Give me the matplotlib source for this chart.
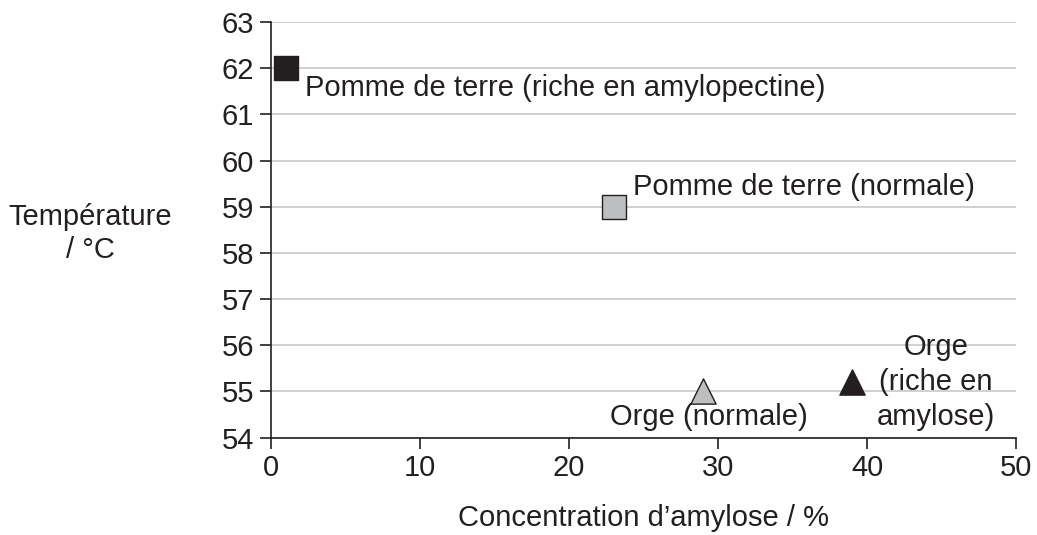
import matplotlib.pyplot as plt

plt.rcParams['font.family'] = ['Liberation Sans', 'DejaVu Sans']

# Données
amylose = [1, 23, 29, 39]  # concentration d'amylose / %
temperature = [62, 59, 55, 55.2]  # température / °C
marqueurs = ['s', 's', '^', '^']
couleurs = ['#231f20', '#bcbec0', '#bcbec0', '#231f20']
etiquettes = ['Pomme de terre (riche en amylopectine)', 'Pomme de terre (normale)',
              'Orge (normale)', 'Orge\n(riche en\namylose)']
x_ticks = [0, 10, 20, 30, 40, 50]
y_ticks = [54, 55, 56, 57, 58, 59, 60, 61, 62, 63]

txt = '#231f20'
fs = 21
fig = plt.figure(figsize=(10.37, 5.35), dpi=100)
ax = fig.add_axes([0.261, 0.182, 0.719, 0.777])

for yv in y_ticks:
    ax.axhline(yv, color='#c8c8c8', lw=1.2, zorder=0)

for x, y, m, c in zip(amylose, temperature, marqueurs, couleurs):
    ax.scatter(x, y, marker=m, s=300 if m == 's' else 330, color=c,
               edgecolor='#231f20', linewidth=1.0, zorder=3, clip_on=False)

# position des étiquettes (coordonnées de données)
pos = [(2.3, 61.57, 'left'), (24.3, 59.43, 'left'), (29.4, 54.45, 'center'), (44.6, 55.2, 'center')]
for lab, (x, y, ha) in zip(etiquettes, pos):
    ax.text(x, y, lab, ha=ha, va='center', fontsize=fs, color=txt, linespacing=1.32)

ax.set_xlim(0, 50)
ax.set_ylim(54, 63)
ax.set_xticks(x_ticks)
ax.set_yticks(y_ticks)
ax.tick_params(direction='out', length=8, width=1.2, colors=txt, labelsize=fs, pad=4)
for s in ['top', 'right']:
    ax.spines[s].set_visible(False)
for s in ['left', 'bottom']:
    ax.spines[s].set_linewidth(1.2)
    ax.spines[s].set_color(txt)

fig.text(643 / 1037, 0.032, 'Concentration d’amylose / %', ha='center', va='center',
         fontsize=fs, color=txt)
fig.text(0.087, 0.564, 'Température\n/ °C', ha='center', va='center',
         fontsize=fs, color=txt, linespacing=1.25)

plt.savefig('out.png', dpi=100)
